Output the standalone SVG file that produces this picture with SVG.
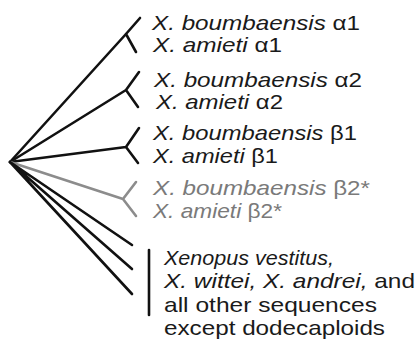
<svg xmlns="http://www.w3.org/2000/svg" width="416" height="358" viewBox="0 0 416 358">
<style>
.e{stroke:#111;stroke-width:2.6;stroke-linecap:round;fill:none}
.g{stroke:#8c8c8c;stroke-width:2.6;stroke-linecap:round;fill:none}
text{font-family:"Liberation Sans",Arial,sans-serif;font-size:21px;fill:#1a1a1a}
text.gt{fill:#7a7a7a}
.i{font-style:italic}
</style>
<rect width="416" height="358" fill="#fff"/>
<g id="connectors">
<path class="e" d="M10,162L126,34M126,34L140,18M126,34L136,52"/>
<path class="e" d="M10,162L126,90M126,90L139,72M126,90L138,107"/>
<path class="e" d="M10,162L126,147M126,147L139,128M126,147L138,163"/>
<path class="g" d="M10,162L123,199M123,199L136,182M123,199L136,216"/>
<path class="e" d="M10,162L132,245M10,162L132,269M10,162L132,294"/>
<path class="e" d="M149,250L149,315"/>
</g>
<g id="alpha1">
<text x="152" y="30" textLength="208" lengthAdjust="spacingAndGlyphs"><tspan class="i">X. boumbaensis</tspan> α1</text>
<text x="153" y="52" textLength="129" lengthAdjust="spacingAndGlyphs"><tspan class="i">X. amieti</tspan> α1</text>
</g>
<g id="alpha2">
<text x="154" y="87" textLength="208" lengthAdjust="spacingAndGlyphs"><tspan class="i">X. boumbaensis</tspan> α2</text>
<text x="156" y="109" textLength="127" lengthAdjust="spacingAndGlyphs"><tspan class="i">X. amieti</tspan> α2</text>
</g>
<g id="beta1">
<text x="153" y="140" textLength="204" lengthAdjust="spacingAndGlyphs"><tspan class="i">X. boumbaensis</tspan> β1</text>
<text x="153" y="163" textLength="125" lengthAdjust="spacingAndGlyphs"><tspan class="i">X. amieti</tspan> β1</text>
</g>
<g id="beta2">
<text class="gt" x="153" y="195" textLength="217" lengthAdjust="spacingAndGlyphs"><tspan class="i">X. boumbaensis</tspan> β2*</text>
<text class="gt" x="153" y="218" textLength="129" lengthAdjust="spacingAndGlyphs"><tspan class="i">X. amieti</tspan> β2*</text>
</g>
<g id="others">
<text x="164" y="265" textLength="170" lengthAdjust="spacingAndGlyphs"><tspan class="i">Xenopus vestitus,</tspan></text>
<text x="164" y="288" textLength="251" lengthAdjust="spacingAndGlyphs"><tspan class="i">X. wittei, X. andrei,</tspan> and</text>
<text x="164" y="312" textLength="213" lengthAdjust="spacingAndGlyphs">all other sequences</text>
<text x="164" y="335" textLength="221" lengthAdjust="spacingAndGlyphs">except dodecaploids</text>
</g>
</svg>
